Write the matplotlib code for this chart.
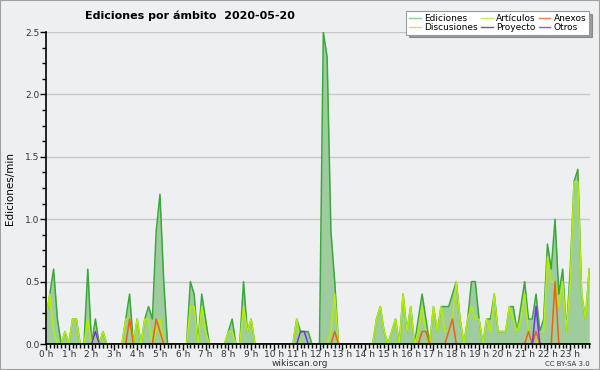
import numpy as np
import matplotlib
matplotlib.use("Agg")
import matplotlib.pyplot as plt
from matplotlib.lines import Line2D
from matplotlib.patches import Rectangle

# edits per minute, 10-minute bins (6 per hour, one row per hour)
ediciones = [
    0.2, 0.4, 0.6, 0.2, 0.0, 0.1,
    0.0, 0.2, 0.2, 0.0, 0.0, 0.6,
    0.0, 0.2, 0.0, 0.1, 0.0, 0.0,
    0.0, 0.0, 0.0, 0.2, 0.4, 0.0,
    0.2, 0.0, 0.2, 0.3, 0.2, 0.9,
    1.2, 0.5, 0.0, 0.0, 0.0, 0.0,
    0.0, 0.0, 0.5, 0.4, 0.0, 0.4,
    0.2, 0.0, 0.0, 0.0, 0.0, 0.0,
    0.1, 0.2, 0.0, 0.0, 0.5, 0.1,
    0.2, 0.0, 0.0, 0.0, 0.0, 0.0,
    0.0, 0.0, 0.0, 0.0, 0.0, 0.0,
    0.2, 0.1, 0.1, 0.1, 0.0, 0.0,
    0.0, 2.5, 2.3, 0.9, 0.5, 0.0,
    0.0, 0.0, 0.0, 0.0, 0.0, 0.0,
    0.0, 0.0, 0.0, 0.2, 0.3, 0.1,
    0.0, 0.1, 0.2, 0.0, 0.4, 0.1,
    0.3, 0.0, 0.2, 0.4, 0.2, 0.0,
    0.3, 0.1, 0.3, 0.3, 0.3, 0.4,
    0.5, 0.2, 0.0, 0.2, 0.5, 0.5,
    0.2, 0.0, 0.2, 0.2, 0.4, 0.1,
    0.1, 0.1, 0.3, 0.3, 0.1, 0.3,
    0.5, 0.2, 0.2, 0.4, 0.1, 0.2,
    0.8, 0.6, 1.0, 0.4, 0.6, 0.1,
    0.6, 1.3, 1.4, 0.4, 0.2, 0.6,
]
articulos = [
    0.2, 0.4, 0.1, 0.0, 0.0, 0.1,
    0.0, 0.2, 0.2, 0.0, 0.0, 0.2,
    0.0, 0.1, 0.0, 0.1, 0.0, 0.0,
    0.0, 0.0, 0.0, 0.2, 0.2, 0.0,
    0.2, 0.0, 0.2, 0.2, 0.0, 0.1,
    0.2, 0.0, 0.0, 0.0, 0.0, 0.0,
    0.0, 0.0, 0.3, 0.3, 0.0, 0.3,
    0.1, 0.0, 0.0, 0.0, 0.0, 0.0,
    0.1, 0.1, 0.0, 0.0, 0.3, 0.1,
    0.2, 0.0, 0.0, 0.0, 0.0, 0.0,
    0.0, 0.0, 0.0, 0.0, 0.0, 0.0,
    0.2, 0.0, 0.0, 0.0, 0.0, 0.0,
    0.0, 0.0, 0.0, 0.1, 0.4, 0.0,
    0.0, 0.0, 0.0, 0.0, 0.0, 0.0,
    0.0, 0.0, 0.0, 0.2, 0.3, 0.1,
    0.0, 0.1, 0.2, 0.0, 0.4, 0.1,
    0.3, 0.0, 0.1, 0.3, 0.1, 0.0,
    0.3, 0.1, 0.3, 0.1, 0.1, 0.2,
    0.5, 0.2, 0.0, 0.2, 0.3, 0.2,
    0.2, 0.0, 0.2, 0.1, 0.4, 0.1,
    0.1, 0.1, 0.3, 0.2, 0.1, 0.2,
    0.4, 0.1, 0.0, 0.0, 0.1, 0.1,
    0.7, 0.5, 0.5, 0.3, 0.5, 0.1,
    0.5, 1.3, 1.3, 0.4, 0.2, 0.6,
]
anexos = [0.0] * 144
for b, v in [(22, 0.2), (29, 0.2), (30, 0.1), (76, 0.1), (99, 0.1), (100, 0.1),
             (106, 0.1), (107, 0.2), (127, 0.1), (129, 0.1), (134, 0.5)]:
    anexos[b] = v
otros = [0.0] * 144
for b, v in [(13, 0.1), (67, 0.1), (68, 0.1), (129, 0.3)]:
    otros[b] = v
discusiones = [0.0] * 144
proyecto = [0.0] * 144

hour_labels = ["%d h" % h for h in range(24)]

bg = "#eeeff1"
fig = plt.figure(figsize=(6, 3.7), dpi=100, facecolor=bg)
ax = fig.add_axes([46 / 600, 26 / 370, 544 / 600, 312 / 370], facecolor=bg)

x = np.arange(len(ediciones))
ax.fill_between(x, ediciones, color="#9fcc9f", lw=0, zorder=1)
ax.plot(x, ediciones, color="#3aa83a", lw=1.1, zorder=3)
ax.plot(x, discusiones, color="#f0d040", lw=1, zorder=2)
ax.plot(x, proyecto, color="#555555", lw=1, zorder=2)
ax.plot(x, articulos, color="#b4ee00", lw=1.1, zorder=4)
ax.plot(x, anexos, color="#f06010", lw=1.1, zorder=5)
ax.plot(x, otros, color="#7a2cf0", lw=1.1, zorder=5)

ax.set_xlim(0, 143.2)
ax.set_ylim(0, 2.5)
ax.set_yticks(np.arange(0, 2.51, 0.5))
ax.set_yticklabels(["%.1f" % v for v in np.arange(0, 2.51, 0.5)])
ax.set_yticks(np.arange(0, 2.51, 0.125), minor=True)
ax.set_xticks(np.arange(0, 144, 6))
ax.set_xticklabels(hour_labels)
ax.set_xticks(np.arange(0, 144, 1), minor=True)
ax.tick_params(axis="both", which="major", length=4, width=1, labelsize=6.5,
               labelcolor="#333333", pad=0.5)
ax.tick_params(axis="x", which="major", pad=0)
ax.tick_params(axis="both", which="minor", length=3, width=1)
ax.grid(axis="y", color="#c8c8c8", lw=1)
ax.set_axisbelow(True)
for s in ["top", "right"]:
    ax.spines[s].set_visible(False)
for s in ["left", "bottom"]:
    ax.spines[s].set_linewidth(1.2)
    ax.spines[s].set_zorder(6)

fig.text(0.142, 0.958, "Ediciones por ámbito  2020-05-20", fontsize=8,
         fontweight="bold", va="center", ha="left")
fig.text(0.017, 0.49, "Ediciones/min", rotation=90, fontsize=7.5,
         va="center", ha="center")
fig.text(0.5, 0.006, "wikiscan.org", fontsize=6.5, color="#333333",
         ha="center", va="bottom")
fig.text(0.983, 0.008, "CC BY-SA 3.0", fontsize=5, color="#333333",
         ha="right", va="bottom")

handles = [
    Line2D([], [], color="#8fd08f", lw=1),
    Line2D([], [], color="#f5d34a", lw=1),
    Line2D([], [], color="#c8ef50", lw=1),
    Line2D([], [], color="#666666", lw=1),
    Line2D([], [], color="#f08050", lw=1),
    Line2D([], [], color="#9950f0", lw=1),
]
labels = ["Ediciones", "Discusiones", "Artículos", "Proyecto", "Anexos", "Otros"]
leg = fig.legend(handles, labels, ncol=3, loc="upper right",
                 bbox_to_anchor=(0.982, 0.97), fontsize=6.5, frameon=True,
                 fancybox=False, shadow=True, edgecolor="#999999",
                 framealpha=1, handlelength=1.3, handletextpad=0.4,
                 columnspacing=0.3, labelspacing=0.0, borderpad=0.3,
                 borderaxespad=0)
leg.get_frame().set_linewidth(0.8)

fig.patches.append(Rectangle((0, 0), 1, 1, transform=fig.transFigure,
                             fill=False, edgecolor="#a0a0a0", lw=1.5))

fig.savefig("out.png", dpi=100, facecolor=bg)
